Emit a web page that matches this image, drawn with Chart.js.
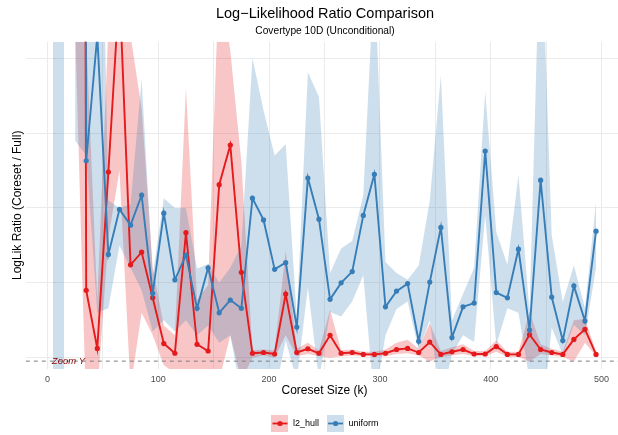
<!DOCTYPE html>
<html lang="en">
<head>
<meta charset="UTF-8">
<title>Log-Likelihood Ratio Comparison</title>
<style>
  html, body { margin: 0; padding: 0; overflow: hidden; background: #ffffff; }
  canvas { display: block; }
</style>
<script src="https://cdn.jsdelivr.net/npm/chart.js"></script>
</head>
<body>
<canvas id="llChart" width="650" height="438"></canvas>
<script>
// coreset sizes (k)
const sizes = [5, 15, 25, 35, 45, 55, 65, 75, 85, 95,
  105, 115, 125, 135, 145, 155, 165, 175, 185, 195,
  205, 215, 225, 235, 245, 255, 265, 275, 285, 295,
  305, 315, 325, 335, 345, 355, 365, 375, 385, 395,
  405, 415, 425, 435, 445, 455, 465, 475, 485, 495];

// l2_hull: mean and ribbon
const l2Mean = [60, 60, 60, 0.90, 0.125, 2.48, 4.95, 1.24, 1.41, 0.80,
  0.19, 0.06, 1.67, 0.18, 0.09, 2.31, 2.84, 1.14, 0.06, 0.07,
  0.05, 0.85, 0.07, 0.12, 0.06, 0.30, 0.06, 0.07, 0.045, 0.045,
  0.06, 0.11, 0.125, 0.07, 0.21, 0.045, 0.08, 0.11, 0.05, 0.05,
  0.15, 0.045, 0.045, 0.31, 0.11, 0.07, 0.045, 0.245, 0.38, 0.045];
const l2Lo = [null, null, 4.4, -0.75, -0.5, 1.6, 2.5, -0.4, 0.6, 0.3,
  -0.1, -0.2, -0.2, -0.4, -0.3, -0.3, 0.3, -0.3, 0.0, 0.03,
  0.0, 0.3, 0.02, 0.05, 0.02, 0.0, 0.02, 0.03, 0.02, 0.02,
  0.02, 0.05, 0.06, 0.03, -0.05, 0.01, 0.03, 0.05, 0.02, 0.02,
  0.08, 0.01, 0.01, -0.05, 0.05, 0.03, 0.01, -0.05, 0.2, 0.02];
const l2Hi = [null, null, 60, 4.3, 0.77, 4.4, 9, 4.3, 3.33, 1.2,
  0.43, 0.3, 3.6, 0.77, 0.97, 5.14, 4.1, 2.61, 0.1, 0.11,
  0.1, 1.43, 0.12, 0.2, 0.1, 0.64, 0.1, 0.11, 0.08, 0.08,
  0.11, 0.2, 0.24, 0.12, 0.46, 0.09, 0.14, 0.18, 0.09, 0.09,
  0.23, 0.08, 0.08, 0.61, 0.18, 0.12, 0.08, 0.5, 0.52, 0.08];

// uniform: mean and ribbon
const uniformMean = [60, 60, 60, 2.63, 4.3, 1.38, 1.98, 1.77, 2.17, 0.86,
  1.93, 1.04, 1.37, 0.66, 1.20, 0.60, 0.77, 0.66, 2.13, 1.84,
  1.18, 1.27, 0.41, 2.40, 1.85, 0.78, 1.00, 1.15, 1.90, 2.45,
  0.68, 0.89, 0.99, 0.22, 1.01, 1.74, 0.27, 0.68, 0.73, 2.76,
  0.87, 0.80, 1.45, 0.37, 2.37, 0.81, 0.23, 0.96, 0.49, 1.69];
const uniformLo = [null, null, 2.9, 2.7, 0.6, 0.66, 1.5, 1.2, 0.9, 0.35,
  0.5, 0.35, 0.5, 0.3, 0.43, 0.2, 0.3, -0.5, -0.5, -0.3,
  -0.5, 0.23, -0.3, 0.94, -0.3, 0.61, 0.55, 0.75, 1.1, -0.6,
  0.3, 0.65, 0.75, 0.1, 0.5, -0.6, 0.05, 0.3, 0.21, 1.9,
  0.17, 0.66, 0.6, -0.3, -1.0, 0.4, 0.04, 0.44, 0.3, 1.2];
const uniformHi = [null, null, 60, 60, 9.4, 2.1, 2.0, 2.05, 3.72, 1.1,
  2.13, 2.0, 2.0, 1.19, 1.25, 1.0, 1.2, 1.5, 4.0, 3.3,
  2.7, 2.85, 0.54, 3.81, 3.48, 1.13, 1.46, 1.56, 2.17, 5.2,
  1.28, 1.13, 1.04, 1.23, 2.1, 3.77, 0.5, 0.85, 1.2, 3.55,
  1.68, 1.24, 2.44, 0.61, 6.0, 1.64, 0.74, 1.23, 0.66, 2.08];

// the smallest uniform sizes have an unbounded ribbon (separate piece)
const uniformEdgeSizes = [5, 15];
const uniformEdgeLo = [-Infinity, -Infinity];
const uniformEdgeHi = [Infinity, Infinity];

const xTickStep = 50;
const xLabelStep = 100;
const refY = -0.045;
const refLabel = 'Zoom Y';
const refLabelX = 4;

const FONT = "'Liberation Sans', Arial, Helvetica, sans-serif";
const RED = '#E41A1C';
const BLUE = '#377EB8';
const RED_BAND = 'rgba(228, 26, 28, 0.25)';
const BLUE_BAND = 'rgba(55, 126, 184, 0.25)';
const Y_MIN = -0.15, Y_MAX = 4.22;
const X_MIN = -19.5, X_MAX = 519.5;

function clampInf(v) {
  if (v === Infinity) return Y_MAX;
  if (v === -Infinity) return Y_MIN;
  return v;
}
const pts = (xs, ys) => xs.map((x, i) => ({x: x, y: clampInf(ys[i])}));

function legendKey(line, band) {
  const c = document.createElement('canvas');
  c.width = 17; c.height = 17;
  const g = c.getContext('2d');
  g.fillStyle = band;
  g.fillRect(0, 0, 17, 17);
  g.strokeStyle = line;
  g.lineWidth = 1.8;
  g.beginPath(); g.moveTo(1, 8.5); g.lineTo(16, 8.5); g.stroke();
  g.fillStyle = line;
  g.beginPath(); g.arc(8.5, 8.5, 2.6, 0, Math.PI * 2); g.fill();
  return c;
}

const band = (data, color, fill, order) => ({
  data: data, borderWidth: 0, borderColor: 'transparent', pointRadius: 0,
  backgroundColor: color, fill: fill, order: order, clip: 0
});
const series = (data, color, order) => ({
  data: data, borderColor: color, backgroundColor: color, borderWidth: 1.9,
  pointRadius: 2.6, pointBorderWidth: 0, pointBackgroundColor: color,
  fill: false, order: order, clip: 0
});

const refLinePlugin = {
  id: 'refLine',
  afterDatasetsDraw(chart) {
    const {ctx, chartArea: a, scales: {x, y}} = chart;
    const py = y.getPixelForValue(refY);
    ctx.save();
    ctx.beginPath();
    ctx.rect(a.left, a.top, a.right - a.left, a.bottom - a.top);
    ctx.clip();
    ctx.strokeStyle = '#7f7f7f';
    ctx.lineWidth = 1;
    ctx.setLineDash([4, 4]);
    ctx.beginPath(); ctx.moveTo(a.left, py); ctx.lineTo(a.right, py); ctx.stroke();
    ctx.setLineDash([]);
    ctx.fillStyle = '#8B0000';
    ctx.font = 'italic 9.5px ' + FONT;
    ctx.textAlign = 'left';
    ctx.textBaseline = 'middle';
    ctx.fillText(refLabel, x.getPixelForValue(refLabelX), py);
    ctx.restore();
  }
};

new Chart(document.getElementById('llChart'), {
  type: 'line',
  data: {
    datasets: [
      band(pts(sizes, l2Lo), RED_BAND, false, 6),
      band(pts(sizes, l2Hi), RED_BAND, '-1', 4),
      band(pts(sizes, uniformLo), BLUE_BAND, false, 6),
      band(pts(sizes, uniformHi), BLUE_BAND, '-1', 3),
      band(pts(uniformEdgeSizes, uniformEdgeLo), BLUE_BAND, false, 6),
      band(pts(uniformEdgeSizes, uniformEdgeHi), BLUE_BAND, '-1', 3),
      series(pts(sizes, l2Mean), RED, 1),
      series(pts(sizes, uniformMean), BLUE, 0)
    ]
  },
  options: {
    responsive: false,
    animation: false,
    events: [],
    layout: { padding: 0 },
    scales: {
      x: {
        type: 'linear',
        min: X_MIN, max: X_MAX,
        grid: { color: '#ebebeb', lineWidth: 1, drawTicks: false },
        border: { display: false },
        ticks: {
          stepSize: xTickStep, includeBounds: false, autoSkip: false, maxRotation: 0,
          padding: 5, color: '#4d4d4d', font: { family: FONT, size: 9 },
          callback: v => (v % xLabelStep === 0 ? String(v) : '')
        },
        title: {
          display: true, text: 'Coreset Size (k)', color: '#000000',
          font: { family: FONT, size: 12 }, padding: { top: 0, bottom: 12.8 }
        },
        afterFit(s) { s.height = 42; }
      },
      y: {
        type: 'linear',
        position: 'left',
        min: Y_MIN, max: Y_MAX,
        grid: { color: '#ebebeb', lineWidth: 1, drawTicks: false },
        border: { display: false },
        ticks: { display: false, stepSize: 1, includeBounds: false },
        title: {
          display: true, text: 'LogLik Ratio (Coreset / Full)', color: '#000000',
          font: { family: FONT, size: 12 }, padding: { top: 10.3, bottom: 0 }
        },
        afterFit(s) { s.width = 25.8; }
      },
      yPad: {
        type: 'linear',
        position: 'right',
        grid: { display: false, drawTicks: false },
        border: { display: false },
        ticks: { display: false },
        afterFit(s) { s.width = 26.8; }
      }
    },
    plugins: {
      title: {
        display: true, text: 'Log\u2212Likelihood Ratio Comparison', color: '#000000',
        font: { family: FONT, size: 14.5, weight: 'normal' }, padding: { top: 5.5, bottom: 1.5 }
      },
      subtitle: {
        display: true, text: 'Covertype 10D (Unconditional)', color: '#000000',
        font: { family: FONT, size: 10.2 }, padding: { top: 1, bottom: 4 }
      },
      legend: {
        position: 'bottom',
        labels: {
          usePointStyle: true, pointStyleWidth: 17, padding: 8, color: '#000000',
          font: { family: FONT, size: 9 },
          generateLabels: () => [
            { text: 'l2_hull', pointStyle: legendKey(RED, RED_BAND), fontColor: '#000000',
              lineWidth: 0, strokeStyle: 'transparent', fillStyle: RED, hidden: false, datasetIndex: 6 },
            { text: 'uniform', pointStyle: legendKey(BLUE, BLUE_BAND), fontColor: '#000000',
              lineWidth: 0, strokeStyle: 'transparent', fillStyle: BLUE, hidden: false, datasetIndex: 7 }
          ]
        }
      },
      tooltip: { enabled: false }
    }
  },
  plugins: [refLinePlugin]
});
</script>
</body>
</html>
